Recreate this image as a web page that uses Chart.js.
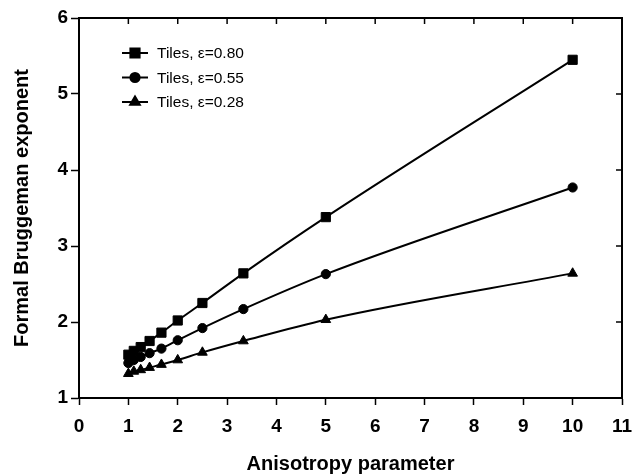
<!DOCTYPE html>
<html>
<head>
<meta charset="utf-8">
<script src="https://cdn.jsdelivr.net/npm/chart.js@4"></script>
<style>
  html, body { margin: 0; padding: 0; background: #fff; }
  #wrap { width: 632px; height: 476px; }
</style>
</head>
<body>
<div id="wrap"><canvas id="chart"></canvas></div>
<script>
// Anisotropy parameter (x) shared by all three series
const anisotropy = [1, 1.11, 1.25, 1.43, 1.67, 2, 2.5, 3.33, 5, 10];

// Formal Bruggeman exponent for each porosity
const tiles080 = [1.57, 1.62, 1.67, 1.75, 1.86, 2.02, 2.25, 2.64, 3.38, 5.45];
const tiles055 = [1.46, 1.50, 1.54, 1.59, 1.65, 1.76, 1.92, 2.17, 2.63, 3.77];
const tiles028 = [1.32, 1.35, 1.37, 1.40, 1.44, 1.50, 1.60, 1.75, 2.03, 2.64];

const seriesLabels = ['Tiles, \u03b5=0.80', 'Tiles, \u03b5=0.55', 'Tiles, \u03b5=0.28'];
const seriesMarkers = ['rect', 'circle', 'triangle'];
const markerRadius = [6.5, 4.6, 5.6];

const xTitle = 'Anisotropy parameter';
const yTitle = 'Formal Bruggeman exponent';

const FONT = '"Liberation Sans", Arial, sans-serif';

const toPoints = ys => ys.map((y, i) => ({ x: anisotropy[i], y: y }));

// box on top/right with inward ticks, legend inside the plot, x title
const framePlugin = {
    id: 'frame',
    afterDraw(chart) {
        const ctx = chart.ctx;
        const a = chart.chartArea;
        const xs = chart.scales.x;
        const ys = chart.scales.y;
        ctx.save();
        ctx.strokeStyle = '#000';
        ctx.lineWidth = 2;
        ctx.beginPath();
        ctx.moveTo(a.left, a.top);
        ctx.lineTo(a.right, a.top);
        ctx.lineTo(a.right, a.bottom);
        ctx.stroke();
        ctx.lineWidth = 1.5;
        xs.ticks.forEach(t => {
            const px = xs.getPixelForValue(t.value);
            ctx.beginPath();
            ctx.moveTo(px, a.top);
            ctx.lineTo(px, a.top + 6);
            ctx.stroke();
        });
        ys.ticks.forEach(t => {
            const py = ys.getPixelForValue(t.value);
            ctx.beginPath();
            ctx.moveTo(a.right, py);
            ctx.lineTo(a.right - 6, py);
            ctx.stroke();
        });

        // legend
        ctx.font = '15.5px ' + FONT;
        ctx.textBaseline = 'middle';
        ctx.fillStyle = '#000';
        chart.data.datasets.forEach((ds, i) => {
            const y = 53 + i * 24.5;
            ctx.lineWidth = 2;
            ctx.beginPath();
            ctx.moveTo(122, y);
            ctx.lineTo(148, y);
            ctx.stroke();
            Chart.helpers.drawPoint(ctx, {
                pointStyle: ds.pointStyle,
                radius: ds.pointRadius,
                rotation: 0,
                borderWidth: 1
            }, 135, y);
            ctx.fill();
            ctx.fillText(ds.label, 157, y + 1);
        });

        // x axis title, centred under the plot
        ctx.font = 'bold 20px ' + FONT;
        ctx.textAlign = 'center';
        ctx.textBaseline = 'alphabetic';
        ctx.fillText(xTitle, (a.left + a.right) / 2, 470);
        ctx.restore();
    }
};

new Chart(document.getElementById('chart'), {
    type: 'line',
    data: {
        datasets: [tiles080, tiles055, tiles028].map((vals, i) => ({
            label: seriesLabels[i],
            data: toPoints(vals),
            borderColor: '#000',
            backgroundColor: '#000',
            borderWidth: 2,
            pointStyle: seriesMarkers[i],
            pointRadius: markerRadius[i],
            pointBorderWidth: 1,
            tension: 0.25,
            cubicInterpolationMode: 'monotone'
        }))
    },
    options: {
        responsive: true,
        maintainAspectRatio: false,
        animation: false,
        layout: { padding: { top: 18, right: 10, bottom: 0, left: 0 } },
        plugins: {
            legend: { display: false },
            tooltip: { enabled: false }
        },
        scales: {
            x: {
                type: 'linear',
                min: 0,
                max: 11,
                ticks: {
                    stepSize: 1,
                    color: '#000',
                    padding: 10,
                    font: { family: FONT, size: 19, weight: 'bold' }
                },
                grid: {
                    drawOnChartArea: false,
                    tickLength: 7,
                    tickWidth: 1.5,
                    tickColor: '#000'
                },
                border: { color: '#000', width: 2 },
                afterFit: s => {
                    s.height = 78;
                    s.paddingLeft = 0;
                    s.paddingRight = 0;
                }
            },
            y: {
                min: 1,
                max: 6,
                ticks: {
                    stepSize: 1,
                    color: '#000',
                    padding: 3,
                    font: { family: FONT, size: 19, weight: 'bold' }
                },
                grid: {
                    drawOnChartArea: false,
                    tickLength: 8,
                    tickWidth: 1.5,
                    tickColor: '#000'
                },
                border: { color: '#000', width: 2 },
                title: {
                    display: true,
                    text: yTitle,
                    color: '#000',
                    padding: { top: 10, bottom: 0 },
                    font: { family: FONT, size: 20, weight: 'bold' }
                },
                afterFit: s => { s.width = 79; }
            }
        }
    },
    plugins: [framePlugin]
});
</script>
</body>
</html>
